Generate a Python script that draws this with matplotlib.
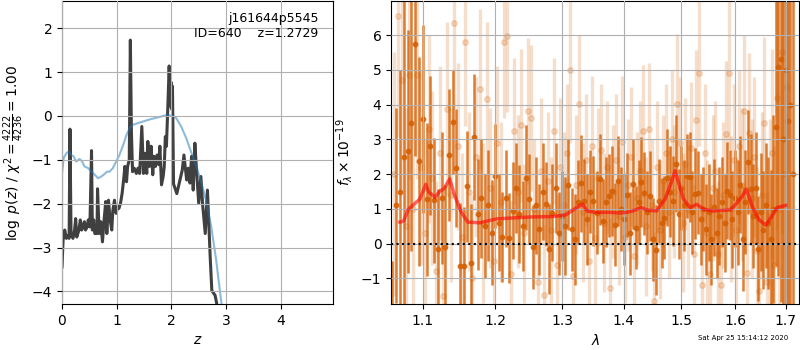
import numpy as np
import matplotlib
matplotlib.use('Agg')
import matplotlib.pyplot as plt
from matplotlib.ticker import FixedLocator, FixedFormatter, NullLocator

# ---- redshift probability (left panel) ----
pz_z = [0.00, 0.02, 0.05, 0.08, 0.11, 0.13, 0.146, 0.165, 0.20, 0.23, 0.25, 0.27, 0.31, 0.335,
        0.36, 0.38, 0.41, 0.43, 0.46, 0.48, 0.51, 0.54, 0.555, 0.58, 0.60, 0.64, 0.65, 0.68,
        0.71, 0.74, 0.77, 0.80, 0.82, 0.85, 0.88, 0.91, 0.93, 0.96, 0.99, 1.02, 1.04, 1.07,
        1.10, 1.13, 1.15, 1.18, 1.20, 1.23, 1.25, 1.27, 1.29, 1.32, 1.36, 1.39, 1.42, 1.46,
        1.49, 1.52, 1.55, 1.57, 1.60, 1.63, 1.66, 1.68, 1.71, 1.74, 1.77, 1.79, 1.82, 1.85,
        1.87, 1.89, 1.91, 1.94, 1.96, 1.98, 2.00, 2.01, 2.02, 2.04, 2.10, 2.15, 2.20, 2.23,
        2.28, 2.31, 2.34, 2.37, 2.40, 2.43, 2.46, 2.50, 2.54, 2.57, 2.62, 2.66, 2.71, 2.74,
        2.80, 2.83, 2.90]
pz_logp = [-3.44, -2.83, -2.60, -2.79, -2.72, -2.79, -0.30, -2.68, -2.79, -2.60, -2.34, -2.76,
           -2.60, -2.37, -2.60, -2.53, -2.41, -2.60, -2.53, -2.37, -2.53, -0.79, -2.60, -2.37,
           -2.68, -2.68, -1.66, -2.68, -2.41, -2.87, -2.37, -1.95, -2.68, -1.92, -2.37, -2.60,
           -2.15, -1.92, -2.22, -2.07, -2.11, -1.99, -1.76, -1.42, -1.15, -1.50, -1.15, -1.00,
           1.73, -0.39, -1.27, -1.19, -1.31, -1.19, -1.31, -0.24, -1.31, -0.85, -1.31, -0.58,
           -1.15, -0.69, -1.34, -0.92, -1.15, -0.89, -1.11, -0.69, -1.57, -1.38, -1.15, -0.47,
           -0.69, 0.37, 1.14, 0.22, 0.76, 0.15, 0.68, -1.55, -1.77, -1.50, -1.23, -0.89,
           -1.46, -1.19, -1.53, -0.92, -1.69, -0.62, -1.23, -1.99, -1.38, -1.99, -2.68, -1.69,
           -3.21, -3.98, -4.09, -4.28, -5.00]

prior_z = [0.00, 0.03, 0.08, 0.12, 0.17, 0.21, 0.26, 0.32, 0.37, 0.41, 0.48, 0.54, 0.60, 0.66,
           0.72, 0.78, 0.82, 0.87, 0.93, 0.99, 1.05, 1.12, 1.18, 1.24, 1.30, 1.42, 1.60, 1.79,
           1.91, 2.00, 2.09, 2.18, 2.27, 2.37, 2.46, 2.55, 2.64, 2.73, 2.82, 2.91, 2.98]
prior_logp = [-1.31, -0.96, -0.85, -0.81, -0.89, -0.92, -1.04, -0.98, -1.04, -1.15, -1.19,
              -1.27, -1.34, -1.42, -1.38, -1.32, -1.27, -1.27, -1.19, -1.04, -0.89, -0.66,
              -0.43, -0.27, -0.20, -0.15, -0.08, -0.02, 0.02, 0.01, -0.05, -0.24, -0.50,
              -0.85, -1.15, -1.53, -1.95, -2.53, -3.29, -4.21, -4.80]

# ---- spectrum (right panel) ----
wave_dark = np.arange(132) * 0.005 + 1.060
flux_dark = [-6.0, 1.1, 1.5, 2.5, 2.66, 3.48, 5.73, 2.37, 3.59, 1.28,
             2.82, 1.25, -0.14, 1.31, -0.11, 2.55, 3.50, 2.17, -0.63, -0.65,
             1.65, -0.55, 3.07, 0.85, 1.30, 0.51, 1.10, 0.32, 1.94, 0.60,
             0.20, 1.30, 0.17, 0.95, 1.60, 0.85, 0.51, 1.90, 1.28, -0.10,
             1.10, 0.41, 1.50, 1.14, -0.16, 0.89, 1.60, 0.30, 0.79, 0.51,
             1.70, 0.41, 0.12, 1.20, 1.74, 1.23, 0.70, 1.50, 1.23, 0.89,
             1.85, 0.65, 1.20, 1.38, 1.52, 0.55, 1.81, 1.00, 0.70, 1.40,
             0.30, 1.71, 0.46, 1.20, 1.78, 1.45, 0.90, 1.38, 0.12, -0.18,
             1.23, 0.60, 0.75, 1.90, 1.50, 1.23, 2.30, 0.85, 1.60, 1.10,
             1.95, 1.91, 0.90, 1.44, 1.47, 0.70, 1.00, 0.41, 0.90, 0.12,
             1.05, 0.30, 0.80, 1.20, 0.59, 1.52, 1.40, 0.70, 1.30, 0.90,
             1.70, 0.13, 1.20, 2.34, 1.56, 0.80, 1.60, -0.14, 0.90, 0.40,
             1.10, 0.60, 0.13, 1.00, 3.35, 5.08, 5.32, 3.00, 5.00, 3.53,
             4.00, 2.00]
err_dark = [5.5, 2.8, 3.5, 4.5, 3.5, 3.7, 3.2, 3.0, 2.7, 2.2,
            2.0, 1.8, 1.7, 1.9, 1.8, 1.9, 1.5, 1.7, 1.8, 1.7,
            1.6, 1.7, 1.8, 1.6, 1.7, 1.5, 1.6, 1.5, 1.5, 1.4,
            1.3, 1.4, 1.3, 1.4, 1.3, 1.4, 1.3, 1.5, 1.3, 1.2,
            1.4, 1.3, 1.4, 1.2, 1.3, 1.4, 1.3, 1.2, 1.3, 1.4,
            1.3, 1.2, 1.3, 1.2, 1.4, 1.2, 1.3, 1.2, 1.3, 1.2,
            1.3, 1.2, 1.3, 1.2, 1.3, 1.2, 1.3, 1.2, 1.3, 1.2,
            1.2, 1.3, 1.2, 1.2, 1.3, 1.2, 1.2, 1.3, 1.2, 1.3,
            1.2, 1.3, 1.2, 1.4, 1.3, 1.3, 1.4, 1.3, 1.2, 1.3,
            1.2, 1.3, 1.2, 1.3, 1.2, 1.3, 1.2, 1.3, 1.4, 1.3,
            1.4, 1.3, 1.4, 1.3, 1.4, 1.4, 1.3, 1.4, 1.4, 1.5,
            1.4, 1.5, 1.5, 1.5, 1.6, 1.5, 1.6, 1.5, 1.7, 1.7,
            1.8, 1.9, 2.0, 2.7, 4.0, 6.0, 7.0, 8.0, 8.0, 8.0,
            9.0, 9.0]

wave_light = np.arange(129) * 0.005 + 1.0625
flux_light = [2.0, 6.56, 4.70, 0.5, 4.85, 1.0, 4.85, 2.2, 0.3, 3.3,
              1.9, -0.8, 2.6, -1.5, 3.87, 1.4, 6.36, 2.8, 0.2, 5.79,
              1.5, -1.0, 2.5, 4.44, 0.6, 4.17, 1.6, -0.5, 2.9, 1.2,
              5.81, 5.98, -0.86, 3.24, 1.5, 3.4, 0.3, 3.81, 3.62, 1.0,
              -1.1, 2.1, -1.47, 1.8, 0.4, 3.23, -0.6, 2.2, 1.1, 2.6,
              5.0, -0.94, 1.7, 4.01, 0.9, 2.4, -0.5, 2.82, 0.15, 1.9,
              2.7, 0.6, 2.2, -1.27, 1.5, 2.4, 0.8, 2.92, 0.2, 1.7,
              2.5, -0.36, 1.3, 2.1, 3.23, 0.5, 3.30, 1.1, -1.66, 2.2,
              0.4, 1.8, 2.6, 0.9, 3.0, 1.5, 4.03, 2.9, 0.6, 2.3,
              1.0, 2.75, -0.3, 3.56, 4.9, -1.2, 2.6, 0.3, -0.87, 1.6,
              2.1, -0.3, -1.2, 1.4, 3.16, 4.92, 1.0, 2.4, 0.4, 2.8,
              1.7, 3.81, -0.85, 3.18, 1.3, 2.5, -0.2, -1.37, 1.4, 3.46,
              -1.1, 0.8, 2.6, -0.6, 4.2, 1.0, 5.5, 2.0, 4.5]
err_light = [3.5, 3.5, 3.2, 3.4, 3.0, 3.0, 3.0, 2.8, 2.7, 2.7,
             2.5, 2.6, 2.5, 2.5, 2.5, 2.5, 2.5, 2.4, 2.4, 2.4,
             2.3, 2.4, 2.3, 2.3, 2.3, 2.2, 2.3, 2.2, 2.2, 2.3,
             2.2, 2.2, 2.1, 2.1, 2.2, 2.2, 2.0, 2.1, 2.1, 2.0,
             2.1, 2.1, 2.0, 2.0, 2.1, 2.1, 2.0, 2.0, 2.1, 2.0,
             2.1, 2.0, 2.0, 2.0, 2.0, 1.9, 2.0, 2.0, 1.9, 2.0,
             1.9, 2.0, 1.9, 2.0, 1.9, 1.9, 2.0, 1.9, 1.9, 1.9,
             2.0, 1.9, 1.9, 2.0, 1.9, 2.0, 1.9, 1.9, 2.0, 1.9,
             2.0, 1.9, 2.0, 1.9, 2.0, 1.9, 2.0, 1.9, 2.0, 1.9,
             2.0, 1.9, 2.0, 2.0, 2.1, 2.0, 2.0, 2.1, 2.0, 2.1,
             2.0, 2.1, 2.1, 2.1, 2.1, 2.2, 2.1, 2.2, 2.1, 2.2,
             2.2, 2.2, 2.2, 2.3, 2.3, 2.3, 2.4, 2.4, 2.4, 2.5,
             2.6, 2.8, 3.0, 3.4, 3.8, 4.3, 5.2, 6.0, 7.0]

model_wave = [1.070, 1.075, 1.081, 1.096, 1.104, 1.108, 1.112, 1.116, 1.123, 1.128, 1.136,
              1.143, 1.152, 1.161, 1.178, 1.201, 1.225, 1.254, 1.285, 1.306, 1.319, 1.332,
              1.340, 1.354, 1.376, 1.398, 1.415, 1.429, 1.440, 1.456, 1.471, 1.480, 1.489,
              1.495, 1.504, 1.516, 1.528, 1.541, 1.559, 1.591, 1.604, 1.614, 1.622, 1.633,
              1.646, 1.660, 1.670, 1.683, 1.700]
model_flux = [0.62, 0.65, 0.99, 1.28, 1.71, 1.47, 1.42, 1.33, 1.52, 1.57, 1.86, 1.37, 0.90,
              0.62, 0.60, 0.71, 0.74, 0.77, 0.78, 0.83, 0.99, 1.14, 0.94, 0.90, 0.90, 0.88,
              0.94, 1.04, 0.97, 0.94, 1.28, 1.67, 2.10, 1.76, 1.28, 1.04, 1.13, 0.99, 0.94,
              0.97, 1.18, 1.37, 1.57, 1.08, 0.70, 0.53, 0.74, 1.04, 1.10]

grism_color = (0.8352941176470589, 0.3686274509803922, 0.0)

fig = plt.figure(figsize=(8, 3.5), dpi=100)

# left panel
ax1 = fig.add_axes([0.0775, 0.131, 0.339, 0.866])
ax1.plot(pz_z, pz_logp, color='0.25', lw=2.2)
ax1.plot(prior_z, prior_logp, color='tab:blue', alpha=0.5, lw=1.5)
ax1.set_xlim(0, 4.96)
ax1.set_ylim(-4.29, 2.62)
ax1.set_xlabel('$z$')
ax1.set_ylabel(r'$\log\ p(z)$' + ' / ' + r'$\chi^2=\frac{4222}{4236}=1.00$')
ax1.text(0.945, 0.965, 'j161644p5545\nID=640    z=1.2729', ha='right', va='top',
         transform=ax1.transAxes, fontsize=9)
ax1.set_axisbelow(False)
ax1.grid()

# right panel
ax2 = fig.add_axes([0.489, 0.131, 0.51, 0.866])
ax2.errorbar(wave_light, flux_light, yerr=err_light, color=grism_color, alpha=0.2,
             marker='o', ms=4, linestyle='None', elinewidth=2.4)
ax2.errorbar(wave_dark, flux_dark, yerr=err_dark, color=grism_color, alpha=0.8,
             marker='o', ms=3.2, linestyle='None', elinewidth=1.8)
ax2.plot(model_wave, model_flux, color='r', alpha=0.6, lw=2.5, zorder=5)
ax2.axhline(0, color='k', linestyle=':', lw=1.5, zorder=6)
ax2.set_xscale('log')
ax2.set_xlim(1.059, 1.728)
ax2.set_ylim(-1.74, 6.98)
ticks = [1.1, 1.2, 1.3, 1.4, 1.5, 1.6, 1.7]
ax2.xaxis.set_major_locator(FixedLocator(ticks))
ax2.xaxis.set_major_formatter(FixedFormatter(['%.1f' % t for t in ticks]))
ax2.xaxis.set_minor_locator(NullLocator())
ax2.set_xlabel(r'$\lambda$')
ax2.set_ylabel(r'$f_\lambda\times10^{-19}$')
ax2.set_axisbelow(False)
ax2.grid()

fig.text(0.985, 0.025, 'Sat Apr 25 15:14:12 2020', ha='right', va='bottom', fontsize=5)

fig.savefig('out.png', dpi=100)
